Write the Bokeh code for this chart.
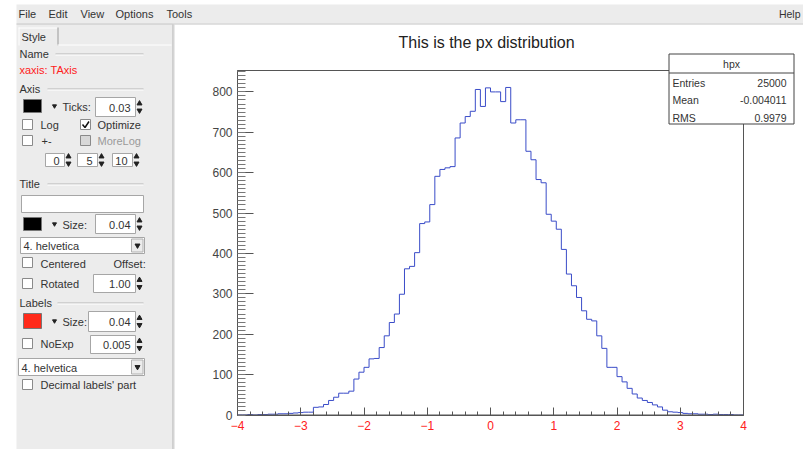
import numpy as np
from bokeh.plotting import figure
from bokeh.models import Range1d, LinearAxis, FixedTicker
from bokeh.core.properties import value
from bokeh.embed import file_html
from bokeh.resources import INLINE

# ---------------- data ----------------
bin_lo, bin_hi, n_bins = -4.0, 4.0, 100
counts = [0, 0, 1, 0, 1, 1, 2, 2, 3, 3, 4, 5,
          6, 7, 7, 19, 20, 26, 36, 44, 54, 54, 59, 89, 106, 118, 139, 140,
          167, 196, 229, 250, 299, 362, 368, 402, 474, 478, 521, 591, 608,
          612, 615, 686, 723, 739, 752, 806, 764, 810,
          800, 800, 776, 811, 723, 731, 731, 653, 632, 583, 575, 497, 480,
          460, 410, 349, 320, 291, 258, 237, 233, 196, 165, 118, 118, 95,
          82, 66, 52, 42, 36, 31, 25, 20, 12, 8, 7, 6, 4, 3, 3, 2, 2, 1, 2,
          1, 1, 1, 0, 0]
y_max = 853
y_ticks = [0, 100, 200, 300, 400, 500, 600, 700, 800]
y_minor = list(range(0, 851, 10))
x_ticks = [-4, -3, -2, -1, 0, 1, 2, 3, 4]
x_minor = [round(-4 + 0.2 * k, 2) for k in range(41)]
title_text = "This is the px distribution"
hist_name = "hpx"
stats_labels = ["Entries", "Mean", "RMS"]
stats_values = ["25000", "-0.004011", "0.9979"]
menu_items = ["File", "Edit", "View", "Options", "Tools"]

# ---------------- layout constants (reference pixels) ----------------
W, H = 803, 449
OX, OY = 0, 0
FX0, FX1 = 237, 743
FY0, FY1 = 70, 414.5
FONT = "Liberation Sans"

p = figure(width=W, height=H, x_range=Range1d(OX, OX + W), y_range=Range1d(OY + H, OY),
           toolbar_location=None, output_backend="svg", min_border=0,
           x_axis_type=None, y_axis_type=None, title=None,
           outline_line_color=None, background_fill_color="white",
           border_fill_color="white")

sx = (FX1 - FX0) / (bin_hi - bin_lo)
sy = (FY1 - FY0) / y_max
p.extra_x_ranges = {"hx": Range1d(bin_lo - (FX0 - OX) / sx, bin_hi + (OX + W - FX1) / sx)}
p.extra_y_ranges = {"hy": Range1d(-(OY + H - FY1) / sy, y_max + (FY0 - OY) / sy)}


def txt(x, y, s, size="11px", color="#333333", align="left", font=FONT):
    return p.text(x=[x], y=[y], text=[s], text_font=value(font), text_font_size=size,
                  text_color=color, text_align=align, text_baseline="middle")


def box(x0, y0, x1, y1, fill, line=None, lw=1):
    p.quad(left=[x0], right=[x1], top=[y0], bottom=[y1], fill_color=fill,
           line_color=line, line_width=lw)


def hline(x0, x1, y, color):
    p.segment(x0=[x0], y0=[y], x1=[x1], y1=[y], line_color=color, line_width=1)


def vline(x, y0, y1, color):
    p.segment(x0=[x], y0=[y0], x1=[x], y1=[y1], line_color=color, line_width=1)


def entry(x0, y0, x1, y1, s="", spin=True):
    box(x0, y0, x1, y1, "white", "#a6a6a6")
    if spin:
        xm = x1 + 4
        ym = (y0 + y1) / 2
        p.scatter(x=[xm], y=[ym - 3.5], marker="triangle", size=5, color="#222222")
        p.scatter(x=[xm], y=[ym + 3.5], marker="inverted_triangle", size=5, color="#222222")
    if s:
        txt(x1 - 5, (y0 + y1) / 2 + 0.5, s, align="right")


def check(x, y, checked=False, disabled=False):
    box(x, y, x + 10, y + 10, "#d8d8d8" if disabled else "white", "#8a8a8a")
    if checked:
        p.line(x=[x + 2, x + 4.5, x + 8.5], y=[y + 5, y + 8, y + 2], line_color="#111111", line_width=1.5)


def combo(x0, y0, x1, y1, s):
    box(x0, y0, x1, y1, "white", "#a6a6a6")
    box(x1 - 13, y0 + 1.5, x1 - 1.5, y1 - 1.5, "#ececec", "#b0b0b0")
    p.scatter(x=[x1 - 7], y=[(y0 + y1) / 2], marker="inverted_triangle", size=5, color="#222222")
    txt(x0 + 3, (y0 + y1) / 2 + 0.5, s)


def section(x_text, y, s, x_line0):
    txt(x_text, y, s)
    hline(x_line0, 143, y + 0.5, "#b4b4b4")
    hline(x_line0, 143, y + 1.5, "#ffffff")


# ---------------- window chrome ----------------
box(16, 4, 812, 23, "#ececec")
box(16, 23, 172, 460, "#ececec")
hline(16, 812, 23.5, "#c4c4c4")
vline(172.5, 24, 460, "#a8a8a8")
vline(173.5, 24, 460, "#d4d4d4")
menu_x = [18, 48, 80, 115, 166]
for mx, m in zip(menu_x, menu_items):
    txt(mx, 13.5, m, size="11px")
txt(800, 13.5, "Help", size="10.5px", align="right")

# tab
vline(18.5, 27, 45, "#ffffff")
hline(18, 57, 27.5, "#ffffff")
vline(57.5, 27, 45, "#9a9a9a")
hline(57, 171, 44.5, "#ffffff")
txt(21, 36, "Style")

# ---------------- left panel ----------------
section(19, 53, "Name", 55)
txt(19, 69, "xaxis: TAxis", color="#ff2020")

section(19, 88, "Axis", 47)
box(23, 99, 41, 112, "#000000", "#777777")
p.scatter(x=[54], y=[105.5], marker="inverted_triangle", size=4, color="#222222")
txt(62, 106, "Ticks:")
entry(95, 97, 135, 116, "0.03")
check(22, 119)
txt(40, 124.5, "Log")
check(80, 119, checked=True)
txt(97, 124.5, "Optimize")
check(22, 135)
txt(41, 140.5, "+-")
check(80, 135, disabled=True)
txt(97, 140.5, "MoreLog", color="#9a9a9a")
entry(45, 153, 64, 166, "0")
entry(77, 153, 97, 166, "5")
entry(112, 153, 132, 166, "10")

section(19, 183, "Title", 47)
box(21, 195, 143, 212, "white", "#a6a6a6")
box(23, 217, 41, 230, "#000000", "#777777")
p.scatter(x=[54], y=[223.5], marker="inverted_triangle", size=4, color="#222222")
txt(62, 224, "Size:")
entry(95, 214, 135, 233, "0.04")
combo(20, 237, 144, 253, "4. helvetica")
check(22, 257)
txt(40, 263, "Centered")
txt(113, 263, "Offset:")
check(22, 278)
txt(40, 283.5, "Rotated")
entry(93, 274, 135, 292, "1.00")

section(19, 302, "Labels", 57)
box(23, 313, 41, 328, "#ff2a1a", "#777777")
p.scatter(x=[54], y=[320.5], marker="inverted_triangle", size=4, color="#222222")
txt(62, 321, "Size:")
entry(88, 311, 135, 331, "0.04")
check(22, 338)
txt(40, 343.5, "NoExp")
entry(90, 335, 135, 353, "0.005")
combo(18, 358, 144, 375, "4. helvetica")
check(22, 379)
txt(40, 384.5, "Decimal labels' part")

# ---------------- histogram ----------------
edges = np.linspace(bin_lo, bin_hi, n_bins + 1)
p.step(x=edges, y=list(counts) + [counts[-1]], mode="after",
       x_range_name="hx", y_range_name="hy", line_color="#3a4cc8", line_width=1)
p.quad(left=[bin_lo], right=[bin_hi], bottom=[0], top=[y_max], fill_color=None,
       line_color="#555555", line_width=1, x_range_name="hx", y_range_name="hy")

xax = LinearAxis(x_range_name="hx", y_range_name="hy", fixed_location=0,
                 bounds=(bin_lo, bin_hi),
                 ticker=FixedTicker(ticks=x_ticks, minor_ticks=x_minor))
xax.major_tick_in = 8
xax.major_tick_out = 0
xax.minor_tick_in = 4
xax.minor_tick_out = 0
xax.axis_line_color = "#555555"
xax.major_tick_line_color = "#555555"
xax.minor_tick_line_color = "#555555"
xax.major_label_text_color = "#ff2020"
xax.major_label_text_font = FONT
xax.major_label_text_font_size = "12px"
xax.major_label_standoff = 6
p.add_layout(xax, "below")

yax = LinearAxis(x_range_name="hx", y_range_name="hy", fixed_location=bin_lo,
                 bounds=(0, y_max),
                 ticker=FixedTicker(ticks=y_ticks, minor_ticks=y_minor))
yax.major_tick_in = 16
yax.major_tick_out = 0
yax.minor_tick_in = 8
yax.minor_tick_out = 0
yax.axis_line_color = "#555555"
yax.major_tick_line_color = "#555555"
yax.minor_tick_line_color = "#777777"
yax.major_label_text_color = "#444444"
yax.major_label_text_font = FONT
yax.major_label_text_font_size = "12px"
yax.major_label_standoff = 5
p.add_layout(yax, "left")

# ---------------- title & stats box ----------------
txt(486, 42, title_text, size="16px", color="#222222", align="center")

box(668.5, 53.5, 793.5, 123.5, "white", "#444444")
hline(668.5, 793.5, 72.5, "#444444")
txt(731, 63, hist_name, size="10.5px", color="#333333", align="center")
for k, (lab, val) in enumerate(zip(stats_labels, stats_values)):
    yy = 82 + k * 17.5
    txt(672, yy, lab, size="10.5px", color="#333333")
    txt(786, yy, val, size="10.5px", color="#333333", align="right")

open("out.html", "w").write(file_html(p, INLINE))
